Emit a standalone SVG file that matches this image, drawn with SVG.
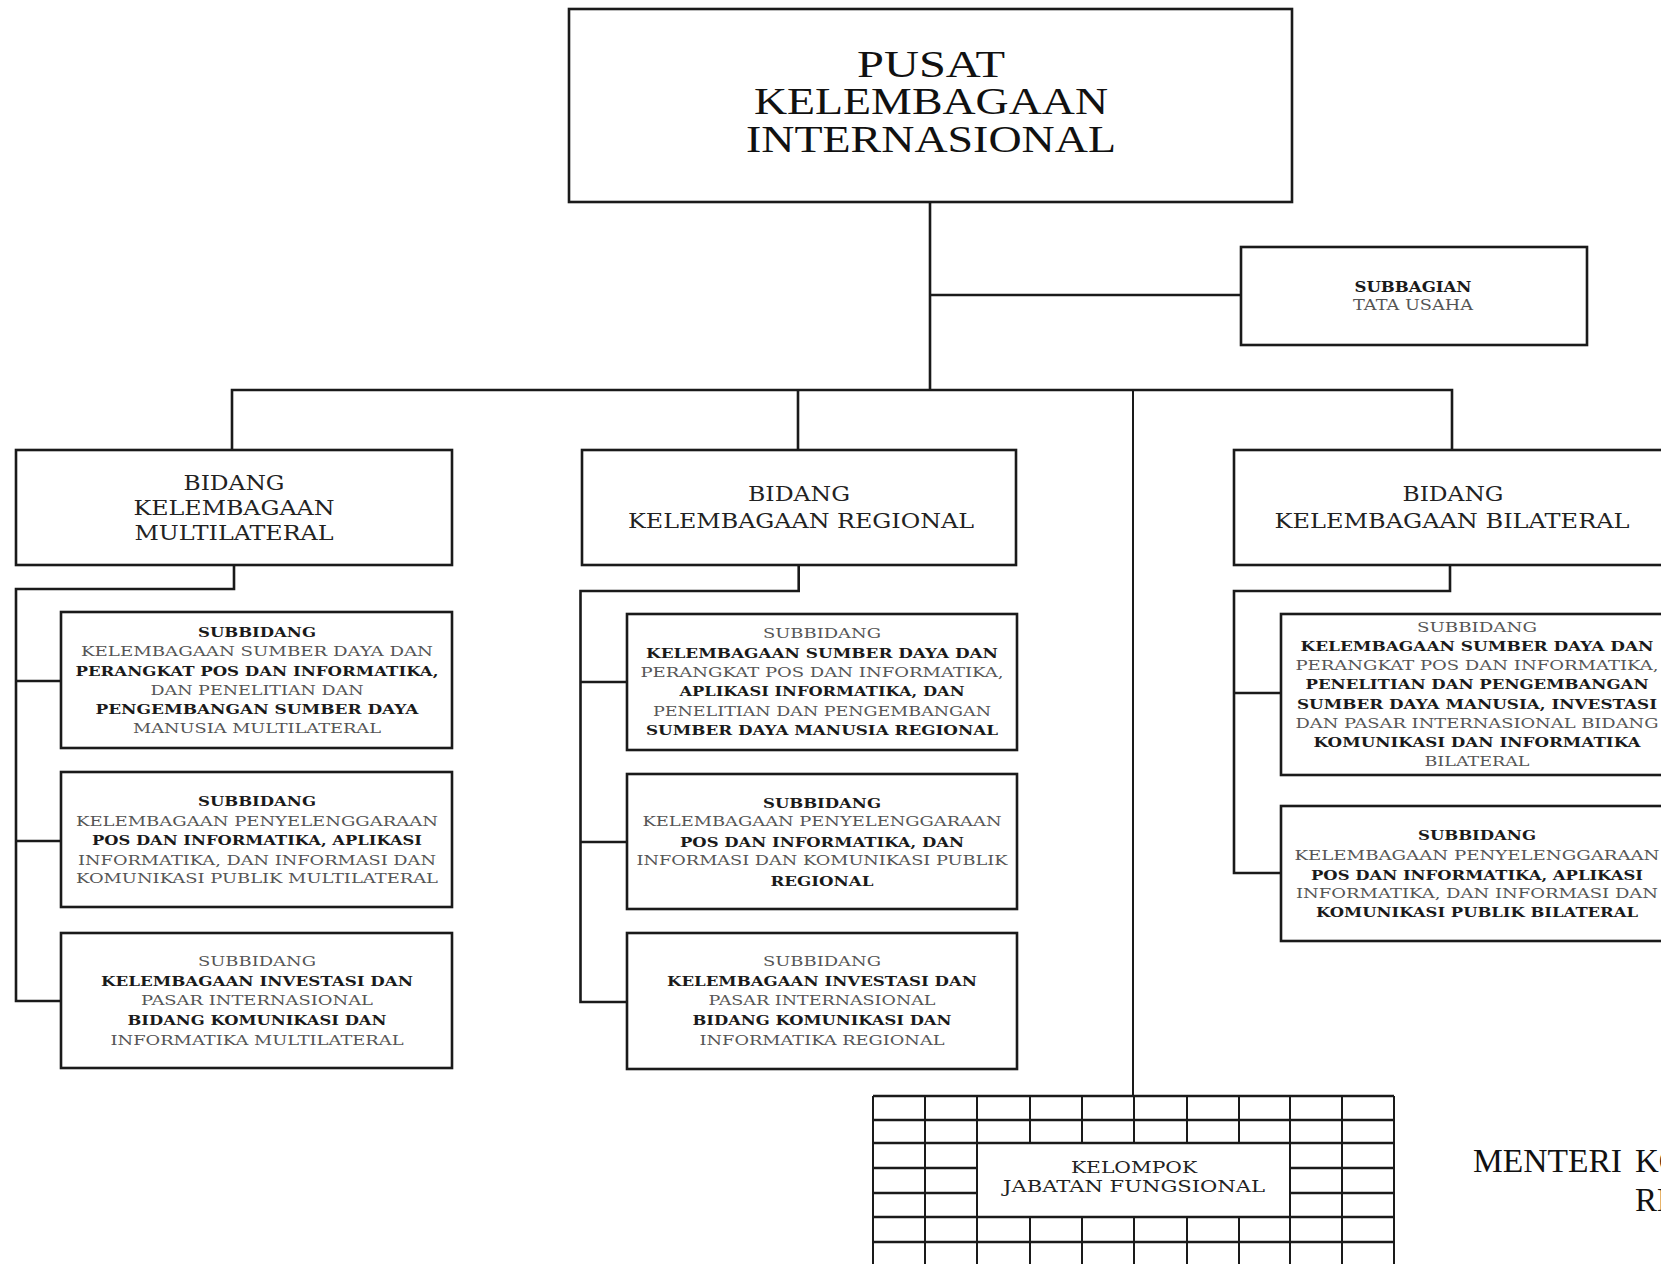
<svg xmlns="http://www.w3.org/2000/svg" width="1661" height="1264" viewBox="0 0 1661 1264">
<style>
.bg{fill:#fff}
.box{fill:#fff;stroke:#1a1a1a;stroke-width:2.6}
.con{fill:none;stroke:#1a1a1a;stroke-width:2.6}
.thin{fill:none;stroke:#1a1a1a;stroke-width:2}
.gh{stroke:#1a1a1a;stroke-width:2.6}
.gv{stroke:#1a1a1a;stroke-width:2}
.t{font-family:"DejaVu Serif","Liberation Serif",serif;text-anchor:middle}
.big{font-family:"Liberation Serif","DejaVu Serif",serif;font-size:37px;fill:#111;text-anchor:middle}
.mid{font-size:20px;fill:#222}
.s{font-size:13px}
.b{font-weight:bold;fill:#1a1a1a}
.n{font-weight:normal;fill:#555}
.men{font-family:"Liberation Serif","DejaVu Serif",serif;font-size:33px;fill:#111}
</style>
<rect class="bg" x="0" y="0" width="1661" height="1264"/>

<g id="connectors">
  <path class="con" d="M930 202 V390"/>
  <path class="con" d="M930 295 H1241"/>
  <path class="con" d="M232 450 V390 H1452 V450"/>
  <path class="con" d="M798 390 V450"/>
  <path class="thin" d="M1133 390 V1096"/>
  <path class="con" d="M234 565 V589 H16 V1001 H61"/>
  <path class="con" d="M16 681 H61 M16 841 H61"/>
  <path class="con" d="M798.7 565 V591 H580.5 V1002 H627"/>
  <path class="con" d="M580.5 682 H627 M580.5 842 H627"/>
  <path class="con" d="M1450 565 V591 H1234 V873 H1281"/>
  <path class="con" d="M1234 693 H1281"/>
</g>

<g id="pusat">
  <rect class="box" x="569" y="9" width="723" height="193"/>
  <text class="big" x="931" y="77" textLength="148" lengthAdjust="spacingAndGlyphs">PUSAT</text>
  <text class="big" x="931" y="114" textLength="354" lengthAdjust="spacingAndGlyphs">KELEMBAGAAN</text>
  <text class="big" x="931" y="152" textLength="370" lengthAdjust="spacingAndGlyphs">INTERNASIONAL</text>
</g>

<g id="subbagian">
  <rect class="box" x="1241" y="247" width="346" height="98"/>
  <text class="t b" x="1413" y="292" font-size="14" textLength="117" lengthAdjust="spacingAndGlyphs">SUBBAGIAN</text>
  <text class="t n" x="1413" y="310" font-size="14" textLength="120" lengthAdjust="spacingAndGlyphs">TATA USAHA</text>
</g>

<g id="bidang-multilateral">
  <rect class="box" x="16" y="450" width="436" height="115"/>
  <text class="t mid" x="234" y="490" textLength="101" lengthAdjust="spacingAndGlyphs">BIDANG</text>
  <text class="t mid" x="234" y="515" textLength="201" lengthAdjust="spacingAndGlyphs">KELEMBAGAAN</text>
  <text class="t mid" x="234" y="540" textLength="199" lengthAdjust="spacingAndGlyphs">MULTILATERAL</text>
</g>

<g id="bidang-regional">
  <rect class="box" x="582" y="450" width="434" height="115"/>
  <text class="t mid" x="799" y="501" textLength="102" lengthAdjust="spacingAndGlyphs">BIDANG</text>
  <text class="t mid" x="801" y="528" textLength="346" lengthAdjust="spacingAndGlyphs">KELEMBAGAAN REGIONAL</text>
</g>

<g id="bidang-bilateral">
  <rect class="box" x="1234" y="450" width="440" height="115"/>
  <text class="t mid" x="1453" y="501" textLength="101" lengthAdjust="spacingAndGlyphs">BIDANG</text>
  <text class="t mid" x="1452" y="528" textLength="355" lengthAdjust="spacingAndGlyphs">KELEMBAGAAN BILATERAL</text>
</g>

<g id="multi-1">
  <rect class="box" x="61" y="612" width="391" height="136"/>
  <text class="t s b" x="257" y="637" textLength="118" lengthAdjust="spacingAndGlyphs">SUBBIDANG</text>
  <text class="t s n" x="257" y="656" textLength="352" lengthAdjust="spacingAndGlyphs">KELEMBAGAAN SUMBER DAYA DAN</text>
  <text class="t s b" x="257" y="675.5" textLength="363" lengthAdjust="spacingAndGlyphs">PERANGKAT POS DAN INFORMATIKA,</text>
  <text class="t s n" x="257" y="694.5" textLength="213" lengthAdjust="spacingAndGlyphs">DAN PENELITIAN DAN</text>
  <text class="t s b" x="257" y="713.5" textLength="323" lengthAdjust="spacingAndGlyphs">PENGEMBANGAN SUMBER DAYA</text>
  <text class="t s n" x="257" y="732.5" textLength="248" lengthAdjust="spacingAndGlyphs">MANUSIA MULTILATERAL</text>
</g>

<g id="multi-2">
  <rect class="box" x="61" y="772" width="391" height="135"/>
  <text class="t s b" x="257" y="806" textLength="118" lengthAdjust="spacingAndGlyphs">SUBBIDANG</text>
  <text class="t s n" x="257" y="826" textLength="362" lengthAdjust="spacingAndGlyphs">KELEMBAGAAN PENYELENGGARAAN</text>
  <text class="t s b" x="257" y="845" textLength="330" lengthAdjust="spacingAndGlyphs">POS DAN INFORMATIKA, APLIKASI</text>
  <text class="t s n" x="257" y="864.5" textLength="358" lengthAdjust="spacingAndGlyphs">INFORMATIKA, DAN INFORMASI DAN</text>
  <text class="t s n" x="257" y="883" textLength="362" lengthAdjust="spacingAndGlyphs">KOMUNIKASI PUBLIK MULTILATERAL</text>
</g>

<g id="multi-3">
  <rect class="box" x="61" y="933" width="391" height="135"/>
  <text class="t s n" x="257" y="965.5" textLength="118" lengthAdjust="spacingAndGlyphs">SUBBIDANG</text>
  <text class="t s b" x="257" y="986" textLength="312" lengthAdjust="spacingAndGlyphs">KELEMBAGAAN INVESTASI DAN</text>
  <text class="t s n" x="257" y="1004.5" textLength="232" lengthAdjust="spacingAndGlyphs">PASAR INTERNASIONAL</text>
  <text class="t s b" x="257" y="1024.5" textLength="259" lengthAdjust="spacingAndGlyphs">BIDANG KOMUNIKASI DAN</text>
  <text class="t s n" x="257" y="1044.5" textLength="293" lengthAdjust="spacingAndGlyphs">INFORMATIKA MULTILATERAL</text>
</g>

<g id="regional-1">
  <rect class="box" x="627" y="614" width="390" height="136"/>
  <text class="t s n" x="822" y="637.5" textLength="118" lengthAdjust="spacingAndGlyphs">SUBBIDANG</text>
  <text class="t s b" x="822" y="657.5" textLength="352" lengthAdjust="spacingAndGlyphs">KELEMBAGAAN SUMBER DAYA DAN</text>
  <text class="t s n" x="822" y="677" textLength="363" lengthAdjust="spacingAndGlyphs">PERANGKAT POS DAN INFORMATIKA,</text>
  <text class="t s b" x="822" y="696" textLength="285" lengthAdjust="spacingAndGlyphs">APLIKASI INFORMATIKA, DAN</text>
  <text class="t s n" x="822" y="716" textLength="338" lengthAdjust="spacingAndGlyphs">PENELITIAN DAN PENGEMBANGAN</text>
  <text class="t s b" x="822" y="734.5" textLength="352" lengthAdjust="spacingAndGlyphs">SUMBER DAYA MANUSIA REGIONAL</text>
</g>

<g id="regional-2">
  <rect class="box" x="627" y="774" width="390" height="135"/>
  <text class="t s b" x="822" y="807.5" textLength="118" lengthAdjust="spacingAndGlyphs">SUBBIDANG</text>
  <text class="t s n" x="822" y="826" textLength="359" lengthAdjust="spacingAndGlyphs">KELEMBAGAAN PENYELENGGARAAN</text>
  <text class="t s b" x="822" y="847" textLength="284" lengthAdjust="spacingAndGlyphs">POS DAN INFORMATIKA, DAN</text>
  <text class="t s n" x="822" y="865" textLength="371" lengthAdjust="spacingAndGlyphs">INFORMASI DAN KOMUNIKASI PUBLIK</text>
  <text class="t s b" x="822" y="886" textLength="103" lengthAdjust="spacingAndGlyphs">REGIONAL</text>
</g>

<g id="regional-3">
  <rect class="box" x="627" y="933" width="390" height="136"/>
  <text class="t s n" x="822" y="966" textLength="118" lengthAdjust="spacingAndGlyphs">SUBBIDANG</text>
  <text class="t s b" x="822" y="986" textLength="310" lengthAdjust="spacingAndGlyphs">KELEMBAGAAN INVESTASI DAN</text>
  <text class="t s n" x="822" y="1004.5" textLength="227" lengthAdjust="spacingAndGlyphs">PASAR INTERNASIONAL</text>
  <text class="t s b" x="822" y="1025" textLength="259" lengthAdjust="spacingAndGlyphs">BIDANG KOMUNIKASI DAN</text>
  <text class="t s n" x="822" y="1044.5" textLength="245" lengthAdjust="spacingAndGlyphs">INFORMATIKA REGIONAL</text>
</g>

<g id="bilateral-1">
  <rect class="box" x="1281" y="614" width="400" height="161"/>
  <text class="t s n" x="1477" y="631.5" textLength="120" lengthAdjust="spacingAndGlyphs">SUBBIDANG</text>
  <text class="t s b" x="1477" y="650.5" textLength="353" lengthAdjust="spacingAndGlyphs">KELEMBAGAAN SUMBER DAYA DAN</text>
  <text class="t s n" x="1477" y="669.5" textLength="363" lengthAdjust="spacingAndGlyphs">PERANGKAT POS DAN INFORMATIKA,</text>
  <text class="t s b" x="1477" y="689" textLength="343" lengthAdjust="spacingAndGlyphs">PENELITIAN DAN PENGEMBANGAN</text>
  <text class="t s b" x="1477" y="708.5" textLength="360" lengthAdjust="spacingAndGlyphs">SUMBER DAYA MANUSIA, INVESTASI</text>
  <text class="t s n" x="1477" y="727.5" textLength="363" lengthAdjust="spacingAndGlyphs">DAN PASAR INTERNASIONAL BIDANG</text>
  <text class="t s b" x="1477" y="747" textLength="327" lengthAdjust="spacingAndGlyphs">KOMUNIKASI DAN INFORMATIKA</text>
  <text class="t s n" x="1477" y="766" textLength="105" lengthAdjust="spacingAndGlyphs">BILATERAL</text>
</g>

<g id="bilateral-2">
  <rect class="box" x="1281" y="806" width="400" height="135"/>
  <text class="t s b" x="1477" y="839.5" textLength="118" lengthAdjust="spacingAndGlyphs">SUBBIDANG</text>
  <text class="t s n" x="1477" y="859.5" textLength="365" lengthAdjust="spacingAndGlyphs">KELEMBAGAAN PENYELENGGARAAN</text>
  <text class="t s b" x="1477" y="879.5" textLength="332" lengthAdjust="spacingAndGlyphs">POS DAN INFORMATIKA, APLIKASI</text>
  <text class="t s n" x="1477" y="898" textLength="362" lengthAdjust="spacingAndGlyphs">INFORMATIKA, DAN INFORMASI DAN</text>
  <text class="t s b" x="1477" y="917" textLength="322" lengthAdjust="spacingAndGlyphs">KOMUNIKASI PUBLIK BILATERAL</text>
</g>

<g id="kelompok-jabatan-fungsional">
  <rect x="873" y="1096" width="521" height="180" fill="#fff"/>
  <g class="gh">
    <line x1="873" y1="1096" x2="1394" y2="1096"/>
    <line x1="873" y1="1120" x2="1394" y2="1120"/>
    <line x1="873" y1="1143" x2="1394" y2="1143"/>
    <line x1="873" y1="1168" x2="977" y2="1168"/>
    <line x1="1290" y1="1168" x2="1394" y2="1168"/>
    <line x1="873" y1="1193" x2="977" y2="1193"/>
    <line x1="1290" y1="1193" x2="1394" y2="1193"/>
    <line x1="873" y1="1217" x2="1394" y2="1217"/>
    <line x1="873" y1="1242" x2="1394" y2="1242"/>
  </g>
  <g class="gv">
    <line x1="873" y1="1096" x2="873" y2="1270"/>
    <line x1="925" y1="1096" x2="925" y2="1270"/>
    <line x1="977" y1="1096" x2="977" y2="1270"/>
    <line x1="1030" y1="1096" x2="1030" y2="1143"/>
    <line x1="1030" y1="1217" x2="1030" y2="1270"/>
    <line x1="1082" y1="1096" x2="1082" y2="1143"/>
    <line x1="1082" y1="1217" x2="1082" y2="1270"/>
    <line x1="1134" y1="1096" x2="1134" y2="1143"/>
    <line x1="1134" y1="1217" x2="1134" y2="1270"/>
    <line x1="1187" y1="1096" x2="1187" y2="1143"/>
    <line x1="1187" y1="1217" x2="1187" y2="1270"/>
    <line x1="1239" y1="1096" x2="1239" y2="1143"/>
    <line x1="1239" y1="1217" x2="1239" y2="1270"/>
    <line x1="1290" y1="1096" x2="1290" y2="1270"/>
    <line x1="1342" y1="1096" x2="1342" y2="1270"/>
    <line x1="1394" y1="1096" x2="1394" y2="1270"/>
  </g>
  <text class="t" x="1134" y="1173" font-size="16" fill="#222" textLength="126" lengthAdjust="spacingAndGlyphs">KELOMPOK</text>
  <text class="t" x="1134" y="1192" font-size="16" fill="#222" textLength="262" lengthAdjust="spacingAndGlyphs">JABATAN FUNGSIONAL</text>
</g>

<g id="menteri">
  <text class="men" x="1473" y="1172"><tspan textLength="149" lengthAdjust="spacingAndGlyphs">MENTERI</tspan><tspan x="1635">KO</tspan></text>
  <text class="men" x="1635" y="1211">RE</text>
</g>
</svg>
